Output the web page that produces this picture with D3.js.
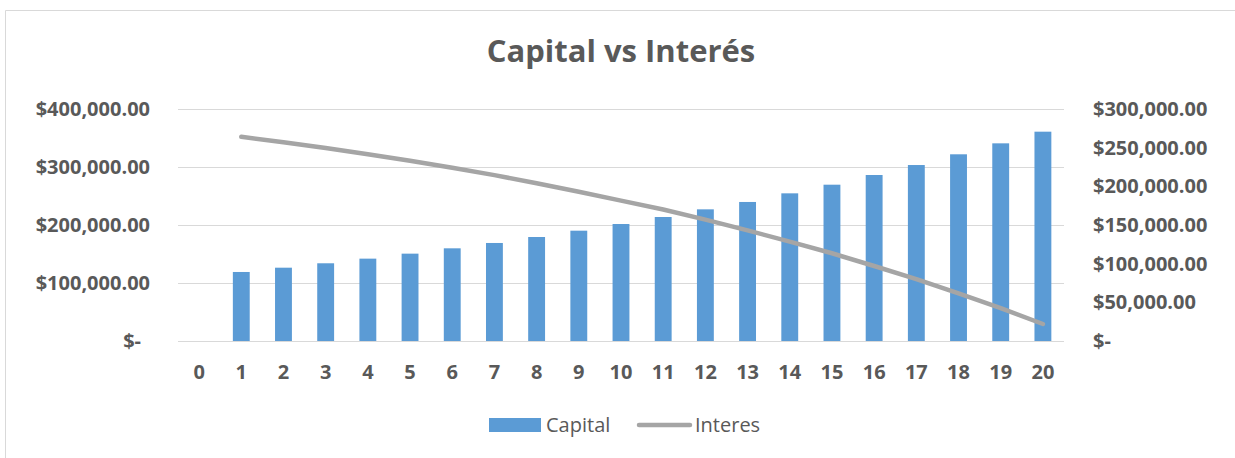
<!DOCTYPE html>
<html>
<head>
<meta charset="utf-8">
<script src="https://cdn.jsdelivr.net/npm/d3@7"></script>
<style>
  body { margin: 0; background: #fff; }
  text { font-family: "Open Sans", "Liberation Sans", sans-serif; fill: #595959; }
  .axis path, .axis line { display: none; }
  .axis text { font-weight: bold; font-size: 20px; }
</style>
</head>
<body>
<div id="chart"></div>
<script>
// data
var periods = [0, 1, 2, 3, 4, 5, 6, 7, 8, 9, 10, 11, 12, 13, 14, 15, 16, 17, 18, 19, 20];
var capital = [null, 119000, 126400, 134000, 142000, 150600, 159800, 169000, 179300, 190200, 201700,
               213800, 227000, 239700, 254600, 269500, 286200, 303400, 321900, 340800, 360900];
var interes = [null, 264000, 257000, 249500, 241500, 233000, 224000, 214500, 204000, 193000, 181500,
               170000, 157000, 143000, 128500, 113500, 97000, 80000, 61500, 42500, 22000];
var leftTicks = [0, 100000, 200000, 300000, 400000];
var rightTicks = [0, 50000, 100000, 150000, 200000, 250000, 300000];

var W = 1235, H = 458;
var plot = {left: 178, right: 1064, top: 109, bottom: 341};

var svg = d3.select("#chart").append("svg")
    .attr("width", W)
    .attr("height", H);

// chart border (only top and left visible in the crop)
svg.append("path")
    .attr("d", "M5.5," + H + "V10.5H" + W)
    .attr("fill", "none")
    .attr("stroke", "#d9d9d9")
    .attr("stroke-width", 1);

var x = d3.scaleBand()
    .domain(periods)
    .range([plot.left, plot.right])
    .paddingInner(0.6)
    .paddingOuter(0.3);

var yLeft = d3.scaleLinear().domain([0, 400000]).range([plot.bottom, plot.top]);
var yRight = d3.scaleLinear().domain([0, 300000]).range([plot.bottom, plot.top]);

var money = d3.format("$,.2f");
function fmt(v) { return v === 0 ? "$-" : money(v); }

// gridlines
svg.append("g").selectAll("line")
    .data(leftTicks)
  .enter().append("line")
    .attr("x1", plot.left)
    .attr("x2", plot.right)
    .attr("y1", function(d) { return Math.round(yLeft(d)) + 0.5; })
    .attr("y2", function(d) { return Math.round(yLeft(d)) + 0.5; })
    .attr("stroke", "#d9d9d9")
    .attr("stroke-width", 1.2);

// bars
svg.append("g").selectAll("rect")
    .data(periods.filter(function(p, i) { return capital[i] != null; }))
  .enter().append("rect")
    .attr("x", function(p) { return x(p); })
    .attr("width", x.bandwidth())
    .attr("y", function(p) { return yLeft(capital[p]); })
    .attr("height", function(p) { return plot.bottom - yLeft(capital[p]); })
    .attr("fill", "#5b9bd5");

// interest line
var line = d3.line()
    .defined(function(p) { return interes[p] != null; })
    .x(function(p) { return x(p) + x.bandwidth() / 2; })
    .y(function(p) { return yRight(interes[p]); });

svg.append("path")
    .datum(periods)
    .attr("d", line)
    .attr("fill", "none")
    .attr("stroke", "#a5a5a5")
    .attr("stroke-width", 4.5)
    .attr("stroke-linecap", "round")
    .attr("stroke-linejoin", "round");

// axes
svg.append("g")
    .attr("class", "axis")
    .attr("transform", "translate(150,0)")
    .call(d3.axisLeft(yLeft).tickValues(leftTicks).tickFormat(fmt).tickSize(0).tickPadding(0))
  .selectAll("text")
    .attr("dx", function(d) { return d === 0 ? -9 : 0; });

svg.append("g")
    .attr("class", "axis")
    .attr("transform", "translate(1093,0)")
    .call(d3.axisRight(yRight).tickValues(rightTicks).tickFormat(fmt).tickSize(0).tickPadding(0));

svg.append("g")
    .attr("class", "axis")
    .attr("transform", "translate(0," + (plot.bottom + 24) + ")")
    .call(d3.axisBottom(x).tickSize(0).tickPadding(0));

// title
svg.append("text")
    .attr("x", 621)
    .attr("y", 62)
    .attr("text-anchor", "middle")
    .style("font-size", "31px")
    .style("font-weight", "bold")
    .text("Capital vs Interés");

// legend
var legend = svg.append("g").attr("transform", "translate(489,0)");
legend.append("rect")
    .attr("x", 0).attr("y", 418)
    .attr("width", 52).attr("height", 14)
    .attr("fill", "#5b9bd5");
legend.append("text")
    .attr("x", 57).attr("y", 432)
    .style("font-size", "20px")
    .text("Capital");
legend.append("line")
    .attr("x1", 150).attr("x2", 201)
    .attr("y1", 425).attr("y2", 425)
    .attr("stroke", "#a5a5a5")
    .attr("stroke-width", 4.5)
    .attr("stroke-linecap", "round");
legend.append("text")
    .attr("x", 206).attr("y", 432)
    .style("font-size", "20px")
    .text("Interes");
</script>
</body>
</html>
